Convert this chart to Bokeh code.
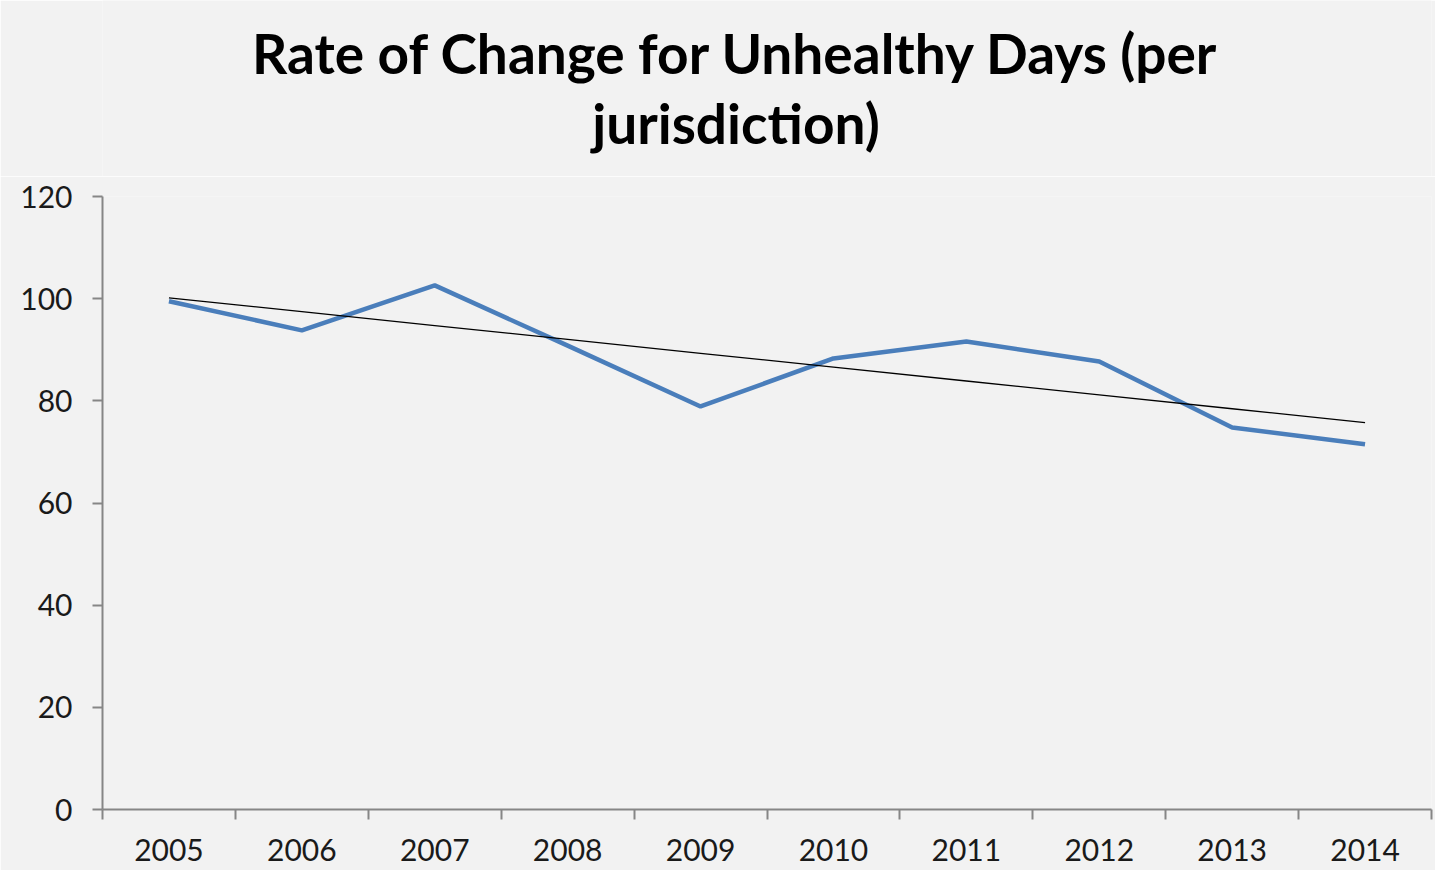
import numpy as np
from bokeh.plotting import figure
from bokeh.layouts import column
from bokeh.models import Range1d, FixedTicker
from bokeh.core.properties import value
from bokeh.embed import file_html
from bokeh.resources import INLINE

years = ["2005", "2006", "2007", "2008", "2009", "2010", "2011", "2012", "2013", "2014"]
rates = [99.5, 93.8, 102.6, 90.8, 78.9, 88.3, 91.6, 87.7, 74.8, 71.5]
y_ticks = [0, 20, 40, 60, 80, 100, 120]
title_line1 = "Rate of Change for Unhealthy Days (per"
title_line2 = "jurisdiction)"

xs = [i + 0.5 for i in range(len(years))]
coef = np.polyfit(np.arange(len(years)), rates, 1)
trend = [coef[0] * i + coef[1] for i in range(len(years))]

BG = "#f2f2f2"
FONT = "Lato"
W = 1435
HEAD_H = 176

# header with the two-line title
head = figure(width=W, height=HEAD_H, output_backend="svg", toolbar_location=None,
              x_range=Range1d(0, W), y_range=Range1d(0, HEAD_H),
              x_axis_location=None, y_axis_location=None,
              background_fill_color=BG, border_fill_color=BG, min_border=0, title=None)
head.grid.visible = False
head.outline_line_color = None
head.text(x=[684, 684], y=[HEAD_H - 52.5, HEAD_H - 122.5], text=[title_line1, title_line2],
          text_align="center", text_baseline="alphabetic", text_font=value(FONT),
          text_font_size="55px", text_font_style="bold", text_color="#000000")

p = figure(width=W, height=870 - HEAD_H, output_backend="svg", toolbar_location=None,
           x_range=Range1d(0, len(years)), y_range=Range1d(0, 120),
           background_fill_color=BG, border_fill_color=BG,
           min_border_left=102, min_border_right=4, min_border_bottom=61, min_border_top=20,
           title=None)
p.outline_line_color = None
p.grid.visible = False

p.line(xs, rates, line_color="#4a7ebb", line_width=4.5)
p.line(xs, trend, line_color="#000000", line_width=1.3)

xa = p.xaxis[0]
xa.ticker = FixedTicker(ticks=xs, minor_ticks=list(range(len(years) + 1)))
xa.major_label_overrides = {x: y for x, y in zip(xs, years)}
xa.major_tick_out = 0
xa.major_tick_in = 0
xa.minor_tick_out = 10
xa.minor_tick_in = 0
xa.minor_tick_line_color = "#868686"
xa.minor_tick_line_width = 2
xa.axis_line_color = "#868686"
xa.axis_line_width = 2
xa.major_label_text_font = FONT
xa.major_label_text_font_size = "30px"
xa.major_label_text_color = "#1a1a1a"
xa.major_label_standoff = 19

ya = p.yaxis[0]
ya.ticker = FixedTicker(ticks=y_ticks)
ya.major_tick_out = 10
ya.major_tick_in = 0
ya.minor_tick_out = 0
ya.minor_tick_in = 0
ya.major_tick_line_color = "#868686"
ya.major_tick_line_width = 2
ya.axis_line_color = "#868686"
ya.axis_line_width = 2
ya.major_label_text_font = FONT
ya.major_label_text_font_size = "30px"
ya.major_label_text_color = "#1a1a1a"
ya.major_label_standoff = 20

layout = column(head, p, spacing=0)
open("out.html", "w").write(file_html(layout, INLINE))
